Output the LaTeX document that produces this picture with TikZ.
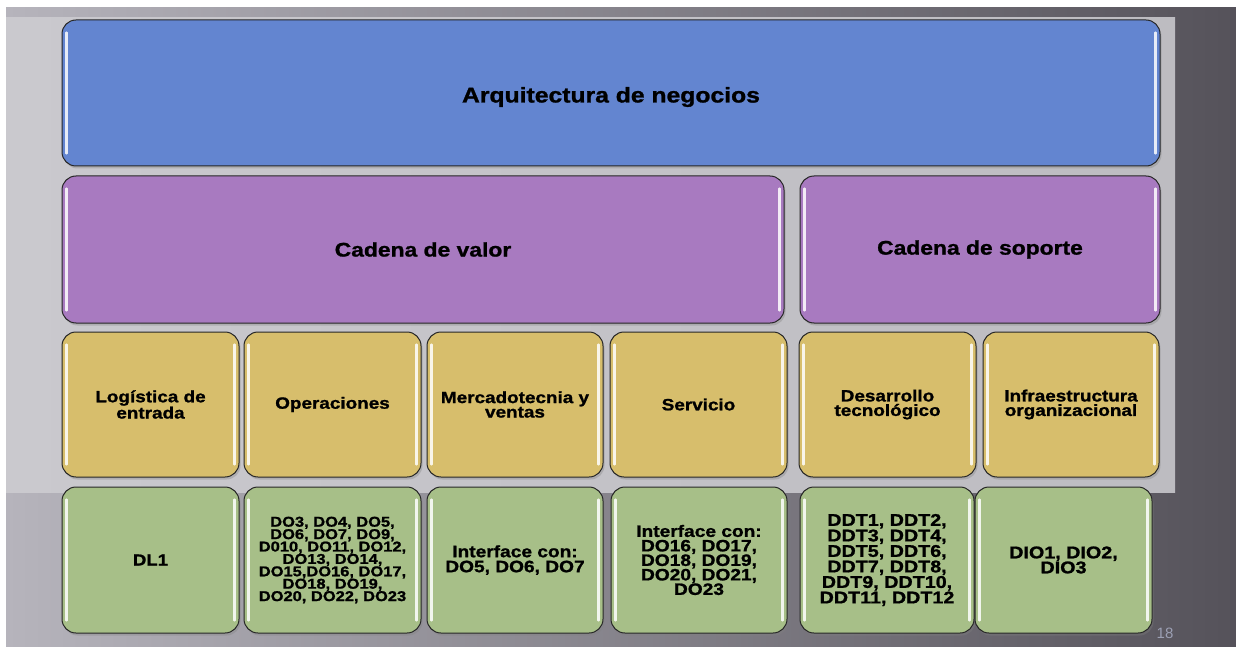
\documentclass[tikz,border=0pt]{standalone}
\usepackage{fontspec}
\usetikzlibrary{shadows}
\newfontfamily\bx[FakeStretch=1.16,FakeBold=1.2]{Liberation Sans}
\newfontfamily\pn{Liberation Sans}
\definecolor{bluebox}{HTML}{6385D0}
\definecolor{purplebox}{HTML}{A87AC0}
\definecolor{yellowbox}{HTML}{D7BE6C}
\definecolor{greenbox}{HTML}{A7BF88}
\definecolor{bgleft}{HTML}{B6B4BC}
\definecolor{bgright}{HTML}{55525A}
\definecolor{panelleft}{HTML}{CAC9CE}
\definecolor{panelright}{HTML}{BDBCC1}
\definecolor{pagenum}{HTML}{9CA0B4}
\tikzset{
  blk/.style={draw=black!85, line width=1pt, rounded corners=14pt, inner sep=0pt,
    align=center, text=black,
    drop shadow={opacity=0.35, shadow xshift=1.5pt, shadow yshift=-2.5pt}},
  hl/.style={white, opacity=0.85, line width=2.2pt, line cap=round},
}
\begin{document}
\begin{tikzpicture}[x=1pt,y=-1pt]
\useasboundingbox (0,0) rectangle (1236,647);
\fill[white] (0,0) rectangle (1236,647);
\shade[left color=bgleft, right color=bgright] (6,8) rectangle (1236,646);
\shade[left color=panelleft, right color=panelright] (6,18) rectangle (1175,492);

% top
\node[blk, fill=bluebox, minimum width=1098pt, minimum height=146pt] (arq) at (611,93) {};
\node[font=\bx\bfseries\fontsize{21.3}{24}\selectfont, inner sep=0pt] (arqt) at (611,97) {Arquitectura de negocios};
% chains
\node[blk, fill=purplebox, minimum width=722pt, minimum height=147pt,
  font=\bx\bfseries\fontsize{19.7}{22}\selectfont] (valor) at (423,249.5) {Cadena de valor};
\node[blk, fill=purplebox, minimum width=360pt, minimum height=147pt,
  font=\bx\bfseries\fontsize{19.7}{22}\selectfont] (soporte) at (980,249.5) {Cadena de soporte};
% yellow row
\tikzset{yb/.style={blk, fill=yellowbox, minimum height=145pt,
  font=\bx\bfseries\fontsize{16.3}{14.5}\selectfont}}
\node[yb, minimum width=177pt] (y1) at (150.5,404.5) {Logística de\\entrada};
\node[yb, minimum width=177pt] (y2) at (332.5,404.5) {Operaciones};
\node[yb, minimum width=176pt] (y3) at (515,404.5) {Mercadotecnia y\\ventas};
\node[yb, minimum width=177pt] (y4) at (698.5,404.5) {Servicio};
\node[yb, minimum width=177pt] (y5) at (887.5,404.5) {Desarrollo\\tecnológico};
\node[yb, minimum width=176pt] (y6) at (1071,404.5) {Infraestructura\\organizacional};
% green row
\tikzset{gb/.style={blk, fill=greenbox, minimum height=146pt}}
\node[gb, minimum width=177pt, font=\bx\bfseries\fontsize{16}{15}\selectfont] (g1) at (150.5,560) {DL1};
\node[gb, minimum width=177pt, font=\bx\bfseries\fontsize{14.2}{12.4}\selectfont] (g2) at (332.5,560)
  {DO3, DO4, DO5,\\DO6, DO7, DO9,\\D010, DO11, DO12,\\DO13, DO14,\\DO15,DO16, DO17,\\DO18, DO19,\\DO20, DO22, DO23};
\node[gb, minimum width=176pt, font=\bx\bfseries\fontsize{16.5}{15}\selectfont] (g3) at (515,560)
  {Interface con:\\DO5, DO6, DO7};
\node[gb, minimum width=176pt, font=\bx\bfseries\fontsize{16.5}{14.5}\selectfont] (g4) at (699,560)
  {Interface con:\\DO16, DO17,\\DO18, DO19,\\DO20, DO21,\\DO23};
\node[gb, minimum width=174pt, font=\bx\bfseries\fontsize{17}{14.5}\selectfont] (g5) at (887,560)
  {DDT1, DDT2,\\DDT3, DDT4,\\DDT5, DDT6,\\DDT7, DDT8,\\DDT9, DDT10,\\DDT11, DDT12};
\node[gb, minimum width=177pt, font=\bx\bfseries\fontsize{17}{15}\selectfont] (g6) at (1063.5,560)
  {DIO1, DIO2,\\DIO3};
% glossy highlights
\foreach \n in {arq,valor,soporte,y1,y2,y3,y4,y5,y6,g1,g2,g3,g4,g5,g6}{
  \draw[hl] ([xshift=5pt,yshift=-13pt]\n.north west) -- ([xshift=5pt,yshift=13pt]\n.south west);
  \draw[hl] ([xshift=-5pt,yshift=-13pt]\n.north east) -- ([xshift=-5pt,yshift=13pt]\n.south east);
}
\node[font=\pn\fontsize{15}{15}\selectfont, text=pagenum, inner sep=0pt] (pg) at (1165,633) {18};
\end{tikzpicture}
\end{document}
